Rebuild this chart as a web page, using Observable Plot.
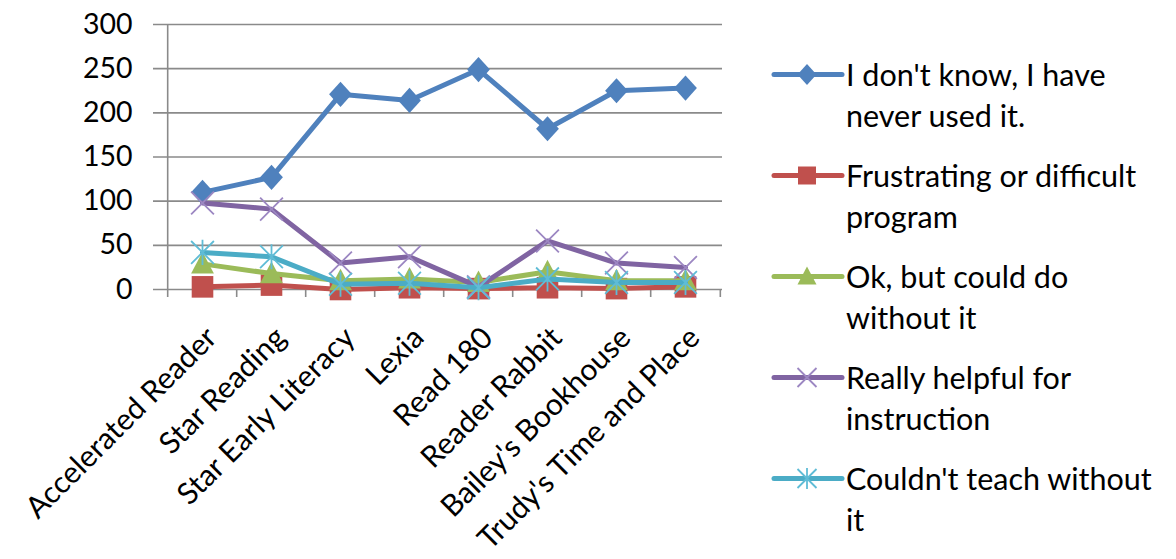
<!DOCTYPE html>
<html><head><meta charset="utf-8">
<script src="https://cdn.jsdelivr.net/npm/d3@7"></script>
<script src="https://cdn.jsdelivr.net/npm/@observablehq/plot@0.6"></script>
<style>
body{margin:0;background:#fff;}
#wrap{position:relative;width:1176px;height:559px;font-family:Lato,sans-serif;overflow:hidden;}
#legend{position:absolute;left:770px;top:0;width:406px;height:559px;}
.entry{position:absolute;left:0;width:406px;height:90px;}
.entry svg{position:absolute;left:0;top:0;}
.entry .lab{position:absolute;left:76px;top:0;font-size:30.5px;line-height:41px;color:#000;white-space:nowrap;}
</style></head><body><div id="wrap"></div>
<script>
const categories = ["Accelerated Reader","Star Reading","Star Early Literacy","Lexia","Read 180","Reader Rabbit","Bailey's Bookhouse","Trudy's Time and Place"];
const seriesNames = ["I don't know, I have never used it.","Frustrating or difficult program","Ok, but could do without it","Really helpful for instruction","Couldn't teach without it"];
const neverUsed     = [110,127,221,214,249,182,225,228];
const frustrating   = [3,5,0,2,1,2,1,3];
const okWithout     = [29,18,10,12,8,20,10,10];
const reallyHelpful = [98,91,30,37,3,55,30,25];
const couldntTeach  = [42,37,6,7,2,12,8,8];
const yTicks = [0,50,100,150,200,250,300];
const legendLines = [["I don't know, I have","never used it."],["Frustrating or difficult","program"],["Ok, but could do","without it"],["Really helpful for","instruction"],["Couldn't teach without","it"]];
const colors = ["#4F81BD","#C0504D","#9BBB59","#8064A2","#4BACC6"];
const markerStroke = ["#4F81BD","#C0504D","#9BBB59","#9C87C2","#5FBCD6"];

const seriesValues = [neverUsed, frustrating, okWithout, reallyHelpful, couldntTeach];

// marker shapes
const rad = s => Math.sqrt(s/Math.PI);
const symbols = [
  {draw(c,s){const r=rad(s); c.moveTo(0,-r*1.05); c.lineTo(r*0.95,0); c.lineTo(0,r*1.05); c.lineTo(-r*0.95,0); c.closePath();}},
  {draw(c,s){const r=rad(s)*0.9; c.moveTo(-r,-r); c.lineTo(r,-r); c.lineTo(r,r); c.lineTo(-r,r); c.closePath();}},
  {draw(c,s){const r=rad(s); c.moveTo(0,-r); c.lineTo(r*0.95,r*0.8); c.lineTo(-r*0.95,r*0.8); c.closePath();}},
  {draw(c,s){const r=rad(s)*0.95; c.moveTo(-r,-r); c.lineTo(r,r); c.moveTo(r,-r); c.lineTo(-r,r);}},
  {draw(c,s){const r=rad(s)*0.95; c.moveTo(-r,-r); c.lineTo(r,r); c.moveTo(r,-r); c.lineTo(-r,r); c.moveTo(0,-r*1.1); c.lineTo(0,r*1.1);}}
];
const filled = [true,true,true,false,false];

const rows = seriesValues.map((vals,si)=>vals.map((v,i)=>({series:seriesNames[si], cat:categories[i], v})));

const W=1176, H=559, mL=165, mR=454, mT=24, mB=270;
const step = (W-mL-mR)/categories.length;

const marks = [
  Plot.gridY(yTicks, {stroke:"#8a8a8a", strokeOpacity:1, strokeWidth:1.6, insetLeft:-12}),
  Plot.ruleX([categories[0]], {x:d=>d, dx:-step/2, stroke:"#8a8a8a", strokeWidth:1.6, insetBottom:-8}),
  Plot.ruleX(categories.slice(1), {x:d=>d, y1:()=>0, y2:()=>0, dx:-step/2, stroke:"#8a8a8a", strokeWidth:1.6, insetBottom:-8}),
  Plot.ruleX([categories[categories.length-1]], {x:d=>d, y1:()=>0, y2:()=>0, dx:step/2, stroke:"#8a8a8a", strokeWidth:1.6, insetBottom:-8}),
  Plot.axisY({ticks:yTicks, tickSize:0, tickPadding:33, fontSize:28.5, fill:"#000", label:null}),
  Plot.text(categories, {x:d=>d, frameAnchor:"bottom", text:d=>d, rotate:-45, textAnchor:"end", lineAnchor:"top", dx:1, dy:35, fontSize:30, fill:"#000"})
];
rows.forEach((data,si)=>{
  marks.push(Plot.line(data, {x:"cat", y:"v", stroke:colors[si], strokeWidth:5, strokeLinejoin:"round", strokeLinecap:"round"}));
  marks.push(Plot.dot(data, {x:"cat", y:"v", symbol:symbols[si], r:12,
    fill: filled[si] ? colors[si] : "none",
    stroke: filled[si] ? "none" : markerStroke[si], strokeWidth:1.8}));
});

const chart = Plot.plot({
  width:W, height:H, marginLeft:mL, marginRight:mR, marginTop:mT, marginBottom:mB,
  x:{type:"point", domain:categories, padding:0.5, axis:null},
  y:{domain:[0,300], axis:null},
  style:{fontFamily:"Lato, sans-serif", fontSize:"28px", color:"#000", background:"#fff", overflow:"visible"},
  marks
});
const wrap = document.getElementById("wrap");
wrap.appendChild(chart);

// legend
const legend = document.createElement("div");
legend.id = "legend";
wrap.appendChild(legend);
seriesNames.forEach((name,si)=>{
  const e = document.createElement("div");
  e.className = "entry";
  e.style.top = (54 + si*101) + "px";
  const svg = d3.create("svg").attr("width",76).attr("height",41);
  svg.append("line").attr("x1",4).attr("x2",72).attr("y1",20.5).attr("y2",20.5)
    .attr("stroke",colors[si]).attr("stroke-width",5).attr("stroke-linecap","round");
  const p = d3.path();
  const sz = 10*10*Math.PI;
  symbols[si].draw(p, sz);
  svg.append("path").attr("d",p.toString()).attr("transform","translate(37,20.5)")
    .attr("fill", filled[si] ? colors[si] : "none")
    .attr("stroke", filled[si] ? "none" : markerStroke[si]).attr("stroke-width",1.8);
  e.appendChild(svg.node());
  const lab = document.createElement("div");
  lab.className = "lab";
  lab.innerHTML = legendLines[si].map(t=>t.replace(/&/g,"&amp;").replace(/</g,"&lt;")).join("<br>");
  e.appendChild(lab);
  legend.appendChild(e);
});
</script>
</body></html>
